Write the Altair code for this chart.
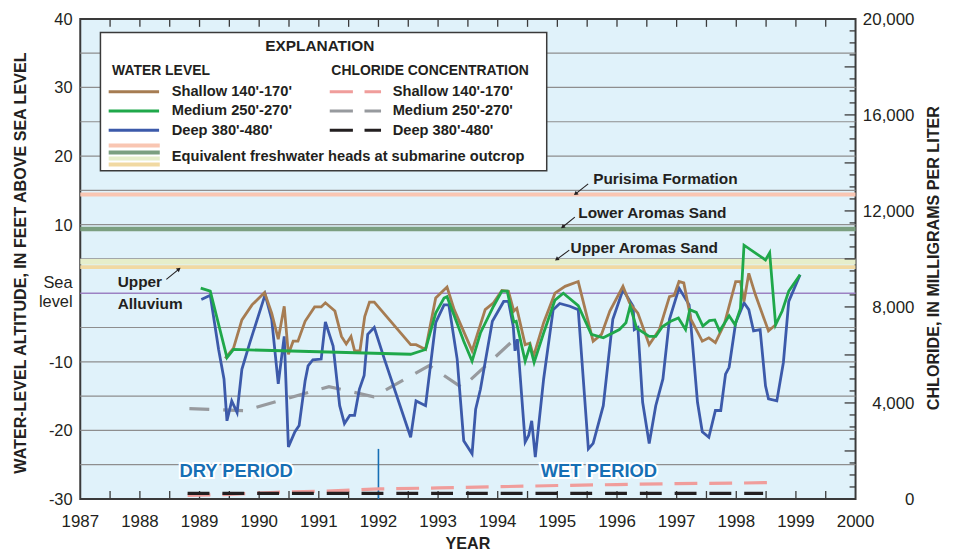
import altair as alt
import pandas as pd

# ---------------- data ----------------
SHALLOW_YEAR = [1989.43, 1989.57, 1989.71, 1989.88, 1990.09, 1990.21, 1990.32, 1990.42, 1990.49, 1990.57,
                1990.65, 1990.77, 1990.93, 1991.04, 1991.11, 1991.27, 1991.38, 1991.46, 1991.54, 1991.60,
                1991.69, 1991.77, 1991.85, 1991.93, 1992.54, 1992.63, 1992.79, 1992.96, 1993.15, 1993.27,
                1993.57, 1993.79, 1993.93, 1994.07, 1994.18, 1994.27, 1994.32, 1994.46, 1994.54, 1994.60,
                1994.77, 1994.96, 1995.13, 1995.35, 1995.60, 1995.74, 1995.88, 1996.10, 1996.21, 1996.35,
                1996.54, 1996.71, 1996.88, 1996.96, 1997.04, 1997.12, 1997.24, 1997.43, 1997.54, 1997.65,
                1997.80, 1997.99, 1998.07, 1998.13, 1998.21, 1998.32, 1998.54, 1998.66]
SHALLOW_FT = [-9.5, -8.0, -3.9, -1.7, 0.1, -2.9, -6.7, -1.9, -8.9, -7.0,
              -7.0, -4.1, -2.0, -2.0, -1.4, -2.6, -6.3, -7.4, -6.3, -8.4,
              -8.4, -3.4, -1.3, -1.3, -7.5, -7.5, -8.2, -0.7, 0.9, -2.4,
              -8.4, -2.4, -1.4, 0.4, 0.3, -2.6, -2.2, -7.5, -7.3, -9.2,
              -4.3, 0.0, 1.0, 1.7, -7.0, -6.0, -2.6, 1.0, -1.4, -2.9,
              -7.5, -5.3, -0.5, -0.3, 1.7, 1.5, -3.8, -7.0, -6.5, -7.2,
              -4.5, 1.7, 1.7, -1.2, 2.9, -0.2, -5.5, -4.6]

MEDIUM_YEAR = [1989.02, 1989.18, 1989.46, 1989.57, 1992.54, 1992.79, 1992.96, 1993.10, 1993.15, 1993.32,
               1993.43, 1993.57, 1993.71, 1993.93, 1994.07, 1994.16, 1994.27, 1994.31, 1994.46, 1994.54,
               1994.61, 1994.77, 1994.96, 1995.10, 1995.35, 1995.57, 1995.77, 1996.04, 1996.15, 1996.22,
               1996.33, 1996.54, 1996.65, 1996.76, 1996.90, 1997.03, 1997.15, 1997.22, 1997.33, 1997.44,
               1997.55, 1997.64, 1997.72, 1997.88, 1997.98, 1998.07, 1998.13, 1998.49, 1998.56, 1998.66,
               1998.77, 1998.88, 1999.07]
MEDIUM_FT = [0.75, 0.3, -9.4, -8.2, -8.9, -8.2, -2.9, -0.7, -0.5, -4.4,
             -7.0, -9.9, -5.8, -1.9, 0.3, 0.3, -4.2, -4.1, -9.9, -7.7,
             -10.1, -5.8, -1.0, 0.0, -1.8, -6.0, -6.5, -5.3, -4.3, -1.9,
             -5.1, -6.3, -6.3, -4.9, -4.1, -3.6, -5.3, -2.4, -2.8, -4.8,
             -4.0, -3.9, -5.5, -3.3, -4.6, -2.2, 7.0, 4.85, 5.9, -4.6,
             -2.6, 0.3, 2.7]

DEEP_YEAR = [1989.03, 1989.18, 1989.32, 1989.41, 1989.46, 1989.54, 1989.63, 1989.71, 1989.84, 1990.10,
             1990.21, 1990.32, 1990.42, 1990.49, 1990.60, 1990.67, 1990.77, 1990.82, 1990.90, 1991.04,
             1991.11, 1991.24, 1991.35, 1991.43, 1991.52, 1991.60, 1991.68, 1991.76, 1991.82, 1991.93,
             1992.10, 1992.54, 1992.63, 1992.79, 1992.96, 1993.10, 1993.18, 1993.32, 1993.43, 1993.57,
             1993.63, 1993.71, 1993.91, 1994.10, 1994.18, 1994.26, 1994.29, 1994.33, 1994.46, 1994.52,
             1994.57, 1994.63, 1994.77, 1994.93, 1995.04, 1995.21, 1995.35, 1995.52, 1995.60, 1995.77,
             1995.93, 1996.10, 1996.27, 1996.29, 1996.35, 1996.43, 1996.54, 1996.65, 1996.77, 1996.88,
             1997.04, 1997.21, 1997.27, 1997.35, 1997.43, 1997.54, 1997.65, 1997.74, 1997.82, 1997.88,
             1997.99, 1998.13, 1998.21, 1998.29, 1998.40, 1998.49, 1998.54, 1998.68, 1998.79, 1998.88,
             1999.07]
DEEP_FT = [-0.9, -0.3, -8.2, -12.5, -18.6, -15.7, -17.4, -11.1, -7.3, -0.2,
           -3.8, -13.2, -6.3, -22.4, -20.2, -19.3, -12.8, -10.6, -9.7, -9.6,
           -4.2, -7.7, -16.4, -19.0, -17.8, -17.8, -14.0, -12.0, -6.0, -5.0,
           -9.6, -21.0, -15.7, -16.4, -4.3, -1.7, -1.7, -9.6, -21.5, -23.4,
           -16.9, -14.0, -4.1, -1.2, -1.2, -4.8, -8.4, -6.7, -21.7, -20.7,
           -18.6, -23.9, -12.5, -2.4, -1.5, -1.9, -2.4, -22.7, -21.9, -16.4,
           -3.8, 0.5, -1.9, -5.3, -5.0, -15.9, -21.9, -16.4, -12.5, -3.8,
           0.75, -1.7, -7.7, -15.9, -20.2, -21.0, -17.1, -17.1, -11.8, -10.8,
           -4.3, -1.4, -2.4, -5.5, -5.3, -13.5, -15.4, -15.7, -10.1, -1.2,
           2.7]

CL_SHALLOW_YEAR = [1988.80, 1989.50, 1990.30, 1991.10, 1992.00, 1993.00, 1994.00, 1995.00, 1996.00, 1997.00, 1998.00, 1998.65]
CL_SHALLOW_MG = [150, 190, 280, 330, 420, 460, 510, 560, 600, 640, 660, 690]
CL_MEDIUM_YEAR = [1988.83, 1989.75, 1991.17, 1991.92, 1992.85, 1993.40, 1994.28]
CL_MEDIUM_MG = [3760, 3680, 4680, 4260, 5560, 4640, 6650]
CL_DEEP_YEAR = [1988.80, 1998.45]
CL_DEEP_MG = [230, 230]

PERIOD_SPLIT_YEAR = [1992.0]

BAND_NAMES = ["Purisima Formation", "Lower Aromas Sand", "Upper Aromas Sand", "Upper Alluvium"]
BAND_FT = [14.4, 9.35, 4.6, 3.8]

YEAR_LABELS = list(range(1987, 2001))
HALF_YEAR_TICKS = [1987 + 0.5 * i for i in range(1, 26)]
FT_LABELS = [-30, -20, -10, 10, 20, 30, 40]
FT_GRID = [-25, -20, -15, -10, -5, 5, 10, 15, 20, 25, 30, 35]
CL_LABELS = [0, 4000, 8000, 12000, 16000, 20000]
CL_MAJOR_TICKS = [2000, 4000, 6000, 8000, 10000, 12000, 14000, 16000, 18000]
CL_MINOR_TICKS = [v for v in range(500, 20000, 500) if v % 2000 != 0]

assert len(SHALLOW_YEAR) == len(SHALLOW_FT)
assert len(MEDIUM_YEAR) == len(MEDIUM_FT)
assert len(DEEP_YEAR) == len(DEEP_FT)

# ---------------- styling ----------------
W, H = 780, 483
SANS = "Liberation Sans"
INK = "#231f20"
FRAME = "#3a3a3a"
C_BROWN, C_GREEN, C_BLUE = "#a67c52", "#1fa84a", "#3c5aaa"
C_CL_SH, C_CL_MED, C_CL_DEEP = "#f09d9b", "#979a9e", "#231f20"
BAND_COLORS = ["#f9c6b2", "#7b9f80", "#e6eeca", "#f1d9a2"]
BAND_WIDTHS = [4, 4.5, 5.5, 3.8]
C_SEA = "#9c82c3"
C_PERIOD = "#166fb5"

XS = alt.Scale(domain=[1987, 2000], nice=False, zero=False)
FT = alt.Scale(domain=[-30, 40], nice=False, zero=False)
CL = alt.Scale(domain=[0, 20000], nice=False, zero=False)

one = pd.DataFrame({"d": [0]})


def text(s, x, y, size=14.75, bold=True, align="left", font=SANS, color=INK, angle=None, baseline="alphabetic", **kw):
    props = dict(text=s, font=font, fontSize=size, fontWeight="bold" if bold else "normal",
                 align=align, baseline=baseline, color=color)
    if angle is not None:
        props["angle"] = angle
    props.update(kw)
    return alt.Chart(one).mark_text(**props).encode(x=alt.value(x), y=alt.value(y))


def seg(x1, y1, x2, y2, color, width, dash=None):
    props = dict(color=color, strokeWidth=width)
    if dash:
        props["strokeDash"] = dash
    return alt.Chart(one).mark_rule(**props).encode(
        x=alt.value(x1), y=alt.value(y1), x2=alt.value(x2), y2=alt.value(y2))


def arrow(x1, y1, x2, y2, angle):
    line = seg(x1, y1, x2, y2, INK, 1.1)
    head = alt.Chart(one).mark_point(shape="triangle-up", filled=True, size=22, angle=angle,
                                     color=INK, opacity=1).encode(x=alt.value(x2), y=alt.value(y2))
    return [line, head]


layers = []

# gridlines
layers.append(
    alt.Chart(pd.DataFrame({"ft": FT_GRID})).mark_rule(color="#8e8e8e", strokeWidth=1.2).encode(
        y=alt.Y("ft:Q", scale=FT, axis=None), x=alt.value(0), x2=alt.value(W))
)

# equivalent freshwater head bands
for lvl, col, wd in zip(BAND_FT, BAND_COLORS, BAND_WIDTHS):
    layers.append(
        alt.Chart(pd.DataFrame({"ft": [lvl]})).mark_rule(color=col, strokeWidth=wd).encode(
            y=alt.Y("ft:Q", scale=FT, axis=None), x=alt.value(0), x2=alt.value(W))
    )

# sea level
layers.append(
    alt.Chart(pd.DataFrame({"ft": [0]})).mark_rule(color=C_SEA, strokeWidth=1.6).encode(
        y=alt.Y("ft:Q", scale=FT, axis=None), x=alt.value(0), x2=alt.value(W))
)

# legend box
layers.append(alt.Chart(one).mark_rect(fill="white", stroke=FRAME, strokeWidth=1.5).encode(
    x=alt.value(20.3), x2=alt.value(469.3), y=alt.value(13.7), y2=alt.value(152.7)))
layers.append(text("EXPLANATION", 241, 32.7, size=15.5, align="center"))
layers.append(text("WATER LEVEL", 32, 56, size=14))
layers.append(text("CHLORIDE CONCENTRATION", 252.6, 56, size=14))
rows_text = [77.7, 97, 116.7]
rows_line = [73.3, 92.7, 112]
wl_names = ["Shallow 140'-170'", "Medium 250'-270'", "Deep 380'-480'"]
for name, ty, ly, wc, cc in zip(wl_names, rows_text, rows_line,
                                [C_BROWN, C_GREEN, C_BLUE], [C_CL_SH, C_CL_MED, C_CL_DEEP]):
    layers.append(seg(28.6, ly, 79.3, ly, wc, 3))
    layers.append(text(name, 92, ty))
    layers.append(seg(251, ly, 302.6, ly, cc, 3, dash=[23.3, 11.7]))
    layers.append(text(name, 314.3, ty))
for by, col in zip([127.4, 134.5, 140.4, 146.5], BAND_COLORS):
    layers.append(seg(28.6, by, 80, by, col, 4))
layers.append(text("Equivalent freshwater heads at submarine outcrop", 92, 142.7))

# inward ticks: bottom and top
for y1, y2 in [(H, H - 8), (0, 8)]:
    layers.append(
        alt.Chart(pd.DataFrame({"year": HALF_YEAR_TICKS})).mark_rule(color=FRAME, strokeWidth=1.3).encode(
            x=alt.X("year:Q", scale=XS, axis=None), y=alt.value(y1), y2=alt.value(y2))
    )
# right axis inward ticks
layers.append(
    alt.Chart(pd.DataFrame({"mg": CL_MINOR_TICKS})).mark_rule(color=FRAME, strokeWidth=1.3).encode(
        y=alt.Y("mg:Q", scale=CL, axis=None), x=alt.value(W - 6), x2=alt.value(W))
)
layers.append(
    alt.Chart(pd.DataFrame({"mg": CL_MAJOR_TICKS})).mark_rule(color=FRAME, strokeWidth=1.3).encode(
        y=alt.Y("mg:Q", scale=CL, axis=None), x=alt.value(W - 11), x2=alt.value(W))
)

# axis tick labels (positioned through the scales)
layers.append(
    alt.Chart(pd.DataFrame({"year": YEAR_LABELS, "lab": [str(v) for v in YEAR_LABELS]})).mark_text(
        font=SANS, fontSize=17, color=INK, align="center", baseline="alphabetic").encode(
        x=alt.X("year:Q", scale=XS, axis=None), y=alt.value(511.5), text="lab:N")
)
layers.append(
    alt.Chart(pd.DataFrame({"ft": FT_LABELS, "lab": [str(v) for v in FT_LABELS]})).mark_text(
        font=SANS, fontSize=16.5, color=INK, align="right", baseline="alphabetic", dy=6).encode(
        y=alt.Y("ft:Q", scale=FT, axis=None), x=alt.value(-7.7), text="lab:N")
)
layers.append(
    alt.Chart(pd.DataFrame({"mg": CL_LABELS, "lab": [f"{v:,}" for v in CL_LABELS]})).mark_text(
        font=SANS, fontSize=17, color=INK, align="right", baseline="alphabetic", dy=6).encode(
        y=alt.Y("mg:Q", scale=CL, axis=None), x=alt.value(839.3), text="lab:N")
)

# dry / wet split line
layers.append(
    alt.Chart(pd.DataFrame({"year": PERIOD_SPLIT_YEAR, "top": [-22.7], "bot": [-30]})).mark_rule(
        color=C_PERIOD, strokeWidth=1.6).encode(
        x=alt.X("year:Q", scale=XS, axis=None), y=alt.Y("top:Q", scale=FT, axis=None), y2="bot:Q")
)


def cl_line(years, vals, color, dash):
    df = pd.DataFrame({"year": years, "mg": vals})
    return alt.Chart(df).mark_line(color=color, strokeWidth=3.2, strokeDash=dash).encode(
        x=alt.X("year:Q", scale=XS, axis=None), y=alt.Y("mg:Q", scale=CL, axis=None))


def wl_line(years, vals, color):
    df = pd.DataFrame({"year": years, "ft": vals})
    return alt.Chart(df).mark_line(color=color, strokeWidth=2.8).encode(
        x=alt.X("year:Q", scale=XS, axis=None), y=alt.Y("ft:Q", scale=FT, axis=None))


layers.append(cl_line(CL_SHALLOW_YEAR, CL_SHALLOW_MG, C_CL_SH, [23, 12]))
layers.append(cl_line(CL_MEDIUM_YEAR, CL_MEDIUM_MG, C_CL_MED, [20, 14]))
layers.append(cl_line(CL_DEEP_YEAR, CL_DEEP_MG, C_CL_DEEP, [22, 13]))
layers.append(wl_line(DEEP_YEAR, DEEP_FT, C_BLUE))
layers.append(wl_line(SHALLOW_YEAR, SHALLOW_FT, C_BROWN))
layers.append(wl_line(MEDIUM_YEAR, MEDIUM_FT, C_GREEN))

# band annotations
layers.append(text(BAND_NAMES[0], 516, 166, size=15.5))
layers.append(text(BAND_NAMES[1], 501, 200.4, size=15.5))
layers.append(text(BAND_NAMES[2], 493.3, 235.4, size=15.5))
layers.append(text("Upper", 37.6, 269.4, size=15.5))
layers.append(text("Alluvium", 37.6, 292, size=15.5))
layers += arrow(511, 166, 498.3, 176, 232)
layers += arrow(497.6, 199.4, 485.3, 209.4, 232)
layers += arrow(492, 232.7, 479.3, 242, 234)
layers += arrow(86.6, 262, 99.3, 251.7, 51)

# period labels with white halo
for s, cx in [("DRY PERIOD", 156.8), ("WET PERIOD", 521.8)]:
    layers.append(text(s, cx, 461, size=18.5, align="center", color="white",
                       stroke="white", strokeWidth=4))
    layers.append(text(s, cx, 461, size=18.5, align="center", color=C_PERIOD))

# sea level label at left axis
layers.append(text("Sea", -7.7, 271, size=16.5, bold=False, align="right"))
layers.append(text("level", -7.7, 290, size=16.5, bold=False, align="right"))

# axis titles
layers.append(text("WATER-LEVEL ALTITUDE, IN FEET ABOVE SEA LEVEL", -60, 245.7, size=16.2,
                   align="center", angle=270, baseline="middle"))
layers.append(text("CHLORIDE, IN MILLIGRAMS PER LITER", 859.3, 240.7, size=16.2,
                   align="center", angle=270, baseline="middle"))
layers.append(text("YEAR", 390, 533.5, size=16.2, align="center"))

chart = alt.layer(*layers).resolve_scale(y="independent").properties(
    width=W, height=H,
    autosize=alt.AutoSizeParams(type="none"),
    padding={"left": 72.7, "top": 9.3, "right": 90, "bottom": 52},
).configure_view(fill="#e0f2fa", stroke=FRAME, strokeWidth=2)

chart.save("out.html", embed_options={"renderer": "svg", "actions": False})
